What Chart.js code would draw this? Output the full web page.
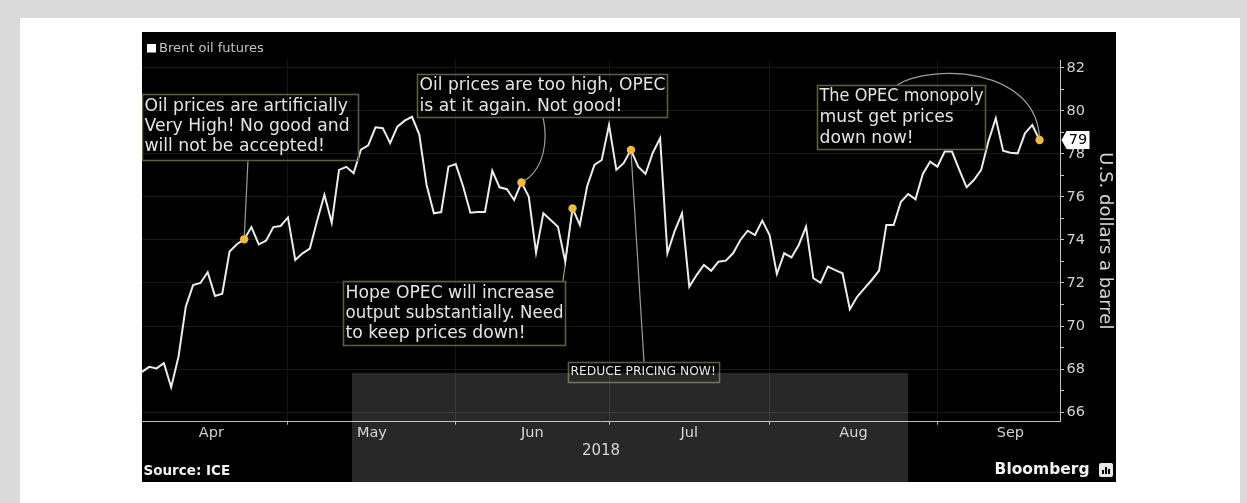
<!DOCTYPE html>
<html>
<head>
<meta charset="utf-8">
<title>Brent oil futures, 2018</title>
<script src="https://cdn.jsdelivr.net/npm/chart.js@4/dist/chart.umd.min.js"></script>
<style>
  html, body { margin: 0; padding: 0; background: #dadada; overflow: hidden; }
  #sheet { position: absolute; left: 20px; top: 18px; width: 1220px; height: 490px; background: #ffffff; }
  #plot { position: absolute; left: 142px; top: 32px; width: 974px; height: 450px; }
</style>
</head>
<body>
<div id="sheet"></div>
<div id="plot"><canvas id="chart"></canvas></div>
<script>
// ---- data ---------------------------------------------------------------
const seriesName = 'Brent oil futures';
const firstSession = '2018-04-02';
const monthNames = ['Apr', 'May', 'Jun', 'Jul', 'Aug', 'Sep'];
const yearLabel = '2018';
const yTickValues = [66, 68, 70, 72, 74, 76, 78, 80, 82];
const yAxisTitle = 'U.S. dollars a barrel';
const sourceText = 'Source: ICE';
const brandText = 'Bloomberg';

// daily settlement, one value per trading session from 2 Apr to 20 Sep 2018
const brent = [
  67.87, 68.10, 68.03, 68.27, 67.15, 68.57, 70.90, 71.90, 72.00, 72.50,
  71.40, 71.50, 73.46, 73.80, 74.03, 74.60, 73.80, 73.97, 74.60, 74.65,
  75.05, 73.07, 73.38, 73.60, 74.90, 76.10, 74.80, 77.26, 77.40, 77.10,
  78.20, 78.40, 79.24, 79.20, 78.50, 79.27, 79.55, 79.73, 78.90, 76.56,
  75.24, 75.30, 77.41, 77.53, 76.50, 75.27, 75.30, 75.30, 77.22, 76.45,
  76.36, 75.86, 76.67, 76.02, 73.41, 75.24, 74.93, 74.62, 72.99, 75.47,
  74.70, 76.50, 77.49, 77.72, 79.35, 77.26, 77.57, 78.19, 77.41, 77.07,
  78.06, 78.73, 73.38, 74.42, 75.24, 71.83, 72.37, 72.84, 72.57, 72.99,
  73.04, 73.38, 74.00, 74.43, 74.23, 74.90, 74.23, 72.42, 73.38, 73.19,
  73.77, 74.62, 72.22, 72.01, 72.76, 72.60, 72.45, 70.78, 71.36, 71.75,
  72.14, 72.57, 74.70, 74.70, 75.78, 76.14, 75.89, 77.07, 77.64, 77.41,
  78.11, 78.11, 77.26, 76.45, 76.79, 77.26, 78.60, 79.66, 78.15, 78.06,
  78.03, 78.96, 79.35, 78.65
];

const noteDates = ['2018-04-20', '2018-06-13', '2018-06-22', '2018-07-04', '2018-09-20'];
const noteTexts = [
  ['Oil prices are artificially', 'Very High! No good and', 'will not be accepted!'],
  ['Oil prices are too high, OPEC', 'is at it again. Not good!'],
  ['Hope OPEC will increase', 'output substantially. Need', 'to keep prices down!'],
  ['REDUCE PRICING NOW!'],
  ['The OPEC monopoly', 'must get prices', 'down now!']
];

// ---- layout of the callout boxes (canvas pixels) ------------------------
const FONT = '"DejaVu Sans", "Noto Sans", sans-serif';
const noteBoxes = [
  { x: 0,   y: 62,  w: 216, h: 66, size: 17.2, first: 12.5, step: 20.2, link: { kind: 'line', from: [106, 128] } },
  { x: 275, y: 42,  w: 250, h: 43, size: 17.2, first: 12.0, step: 20.6, link: { kind: 'curve', from: [401, 85], c1: [406, 108], c2: [403, 138] } },
  { x: 201, y: 249, w: 222, h: 64, size: 17.2, first: 12.3, step: 20.3, link: { kind: 'line', from: [421, 249] } },
  { x: 426, y: 330, w: 151, h: 20, size: 12.3, first: 10.3, step: 0,    link: { kind: 'line', from: [502, 330] } },
  { x: 675, y: 53,  w: 168, h: 64, size: 17.2, first: 11.7, step: 20.8, link: { kind: 'curve', from: [755, 53], c1: [788, 32], c2: [896, 34] } }
];

// ---- trading calendar ---------------------------------------------------
function weekdaysOf(year, fromMonth, toMonth) {
  const out = [];
  const d = new Date(Date.UTC(year, fromMonth, 1));
  while (d.getUTCFullYear() === year && d.getUTCMonth() <= toMonth) {
    const wd = d.getUTCDay();
    if (wd !== 0 && wd !== 6) out.push(d.toISOString().slice(0, 10));
    d.setUTCDate(d.getUTCDate() + 1);
  }
  return out;
}
const calendar = weekdaysOf(2018, 3, 8);            // April .. September
const start = calendar.indexOf(firstSession);
const points = brent.map((v, i) => ({ x: start + i, y: v }));
const lastIdx = start + brent.length - 1;

// month boundaries = last session of each month; labels sit midway between them
const monthEnds = monthNames.map((_, m) => {
  let last = -1;
  calendar.forEach((d, i) => { if (+d.slice(5, 7) === m + 4) last = i; });
  return last;
});
const monthMids = monthEnds.map((e, i) => ((i === 0 ? start - 1 : monthEnds[i - 1]) + e) / 2);
const noteIdx = noteDates.map(d => calendar.indexOf(d) - start);
const noteSet = new Set(noteIdx);
const yMinor = [];
for (let v = yTickValues[0]; v <= yTickValues[yTickValues.length - 1]; v++) yMinor.push(v);

// ---- drawing helpers ------------------------------------------------------
const decor = {
  id: 'decor',
  beforeDraw(chart) {
    const { ctx, width, height } = chart;
    ctx.save();
    ctx.fillStyle = '#000';
    ctx.fillRect(0, 0, width, height);
    ctx.restore();
  },
  beforeDatasetsDraw(chart) {
    const ctx = chart.ctx;
    const meta = chart.getDatasetMeta(0);
    ctx.save();
    ctx.strokeStyle = '#9c9c9c';
    ctx.lineWidth = 1.2;
    noteBoxes.forEach((b, k) => {
      const p = meta.data[noteIdx[k]];
      ctx.beginPath();
      ctx.moveTo(b.link.from[0], b.link.from[1]);
      if (b.link.kind === 'curve') {
        ctx.bezierCurveTo(b.link.c1[0], b.link.c1[1], b.link.c2[0], b.link.c2[1], p.x, p.y);
      } else {
        ctx.lineTo(p.x, p.y);
      }
      ctx.stroke();
    });
    ctx.restore();
  },
  afterDatasetsDraw(chart) {
    const ctx = chart.ctx;
    ctx.save();
    noteBoxes.forEach((b, k) => {
      ctx.strokeStyle = '#5d5c3e';
      ctx.lineWidth = 1.6;
      ctx.strokeRect(b.x + 0.5, b.y + 0.5, b.w, b.h);
      ctx.fillStyle = '#e4e4e4';
      ctx.font = b.size + 'px ' + FONT;
      ctx.textBaseline = 'middle';
      ctx.textAlign = 'left';
      noteTexts[k].forEach((line, j) =>
        ctx.fillText(line, b.x + 2.5, b.y + b.first + j * b.step, b.w - 4));
    });
    ctx.restore();
  },
  afterDraw(chart) {
    const { ctx } = chart;
    const ys = chart.scales.y;
    ctx.save();

    // legend
    ctx.fillStyle = '#ffffff';
    ctx.fillRect(5, 12, 9, 8.5);
    ctx.fillStyle = '#c4c4c4';
    ctx.font = '13px ' + FONT;
    ctx.textBaseline = 'middle';
    ctx.textAlign = 'left';
    ctx.fillText(seriesName, 17, 16.5);

    // last value tag on the price axis
    const lastVal = brent[brent.length - 1];
    const ty = ys.getPixelForValue(lastVal);
    const tx = ys.left + 1.5;
    ctx.fillStyle = '#ffffff';
    ctx.beginPath();
    ctx.moveTo(tx, ty);
    ctx.lineTo(tx + 5, ty - 9);
    ctx.lineTo(tx + 28, ty - 9);
    ctx.lineTo(tx + 28, ty + 9);
    ctx.lineTo(tx + 5, ty + 9);
    ctx.closePath();
    ctx.fill();
    ctx.fillStyle = '#000000';
    ctx.font = '14.5px ' + FONT;
    ctx.textAlign = 'center';
    ctx.fillText(String(Math.round(lastVal)), tx + 16.5, ty + 0.5);

    // footer
    ctx.fillStyle = '#f2f2f2';
    ctx.font = 'bold 13.5px ' + FONT;
    ctx.textAlign = 'left';
    ctx.fillText(sourceText, 1.5, 439.5);
    ctx.font = 'bold 15.5px ' + FONT;
    ctx.textAlign = 'right';
    ctx.fillText(brandText, 947.5, 437.5);
    // small brand mark
    ctx.fillStyle = '#e8e8e8';
    ctx.beginPath();
    ctx.roundRect(957, 431, 14, 14, 2);
    ctx.fill();
    ctx.fillStyle = '#000';
    ctx.fillRect(960, 438, 2, 4);
    ctx.fillRect(963, 435, 2, 7);
    ctx.fillRect(966, 437, 2, 5);

    // translucent band over the lower middle
    ctx.fillStyle = 'rgba(255,255,255,0.155)';
    ctx.fillRect(210, 341, 556, 109);
    ctx.restore();
  }
};

new Chart(document.getElementById('chart'), {
  type: 'line',
  data: {
    datasets: [{
      label: seriesName,
      data: points,
      borderColor: '#ececec',
      borderWidth: 2,
      tension: 0,
      pointRadius: c => noteSet.has(c.dataIndex) ? 4.2 : 0,
      pointHoverRadius: 0,
      pointBackgroundColor: '#f4b93a',
      pointBorderWidth: 0,
      clip: 4
    }]
  },
  options: {
    responsive: true,
    maintainAspectRatio: false,
    animation: false,
    events: [],
    layout: { autoPadding: false, padding: { top: 28, left: 0, right: 0, bottom: 0 } },
    plugins: { legend: { display: false }, tooltip: { enabled: false } },
    scales: {
      x: {
        type: 'linear',
        position: 'bottom',
        weight: 0,
        min: start,
        max: lastIdx + 2.8,
        afterBuildTicks: s => { s.ticks = monthEnds.slice(0, -1).map(v => ({ value: v })); },
        afterFit: s => { s.height = 3; },
        ticks: { display: false },
        grid: { color: '#161616', tickColor: '#bdbdbd', tickLength: 3, drawTicks: true },
        border: { display: true, color: '#bcbcbc', width: 1 }
      },
      xm: {
        type: 'linear',
        position: 'bottom',
        weight: 1,
        min: start,
        max: lastIdx + 2.8,
        afterBuildTicks: s => { s.ticks = monthMids.map(v => ({ value: v })); },
        afterFit: s => { s.height = 57.3; },
        ticks: {
          color: '#d0d0d0',
          font: { family: FONT, size: 14.5 },
          padding: 0,
          maxRotation: 0,
          autoSkip: false,
          callback: (v, i) => monthNames[i]
        },
        grid: { display: false, drawTicks: false },
        border: { display: false },
        title: {
          display: true,
          text: yearLabel,
          color: '#d0d0d0',
          font: { family: FONT, size: 15 },
          padding: { top: 0, bottom: 22 }
        }
      },
      y: {
        position: 'right',
        min: 65.55,
        max: 82.37,
        afterBuildTicks: s => { s.ticks = yMinor.map(v => ({ value: v })); },
        afterFit: s => { s.width = 56; },
        ticks: {
          color: '#d4d4d4',
          font: { family: FONT, size: 14.5 },
          padding: 2.5,
          autoSkip: false,
          callback: v => yTickValues.includes(v) ? String(v) : ''
        },
        grid: {
          color: c => (c.tick && yTickValues.includes(c.tick.value)) ? '#1a1a1a' : 'rgba(0,0,0,0)',
          tickColor: '#c4c4c4',
          tickLength: 4
        },
        border: { display: true, color: '#c4c4c4', width: 1 },
        title: {
          display: true,
          text: yAxisTitle,
          color: '#d4d4d4',
          font: { family: FONT, size: 18 },
          padding: { top: 1, bottom: 0 }
        }
      }
    }
  },
  plugins: [decor]
});
</script>
</body>
</html>
